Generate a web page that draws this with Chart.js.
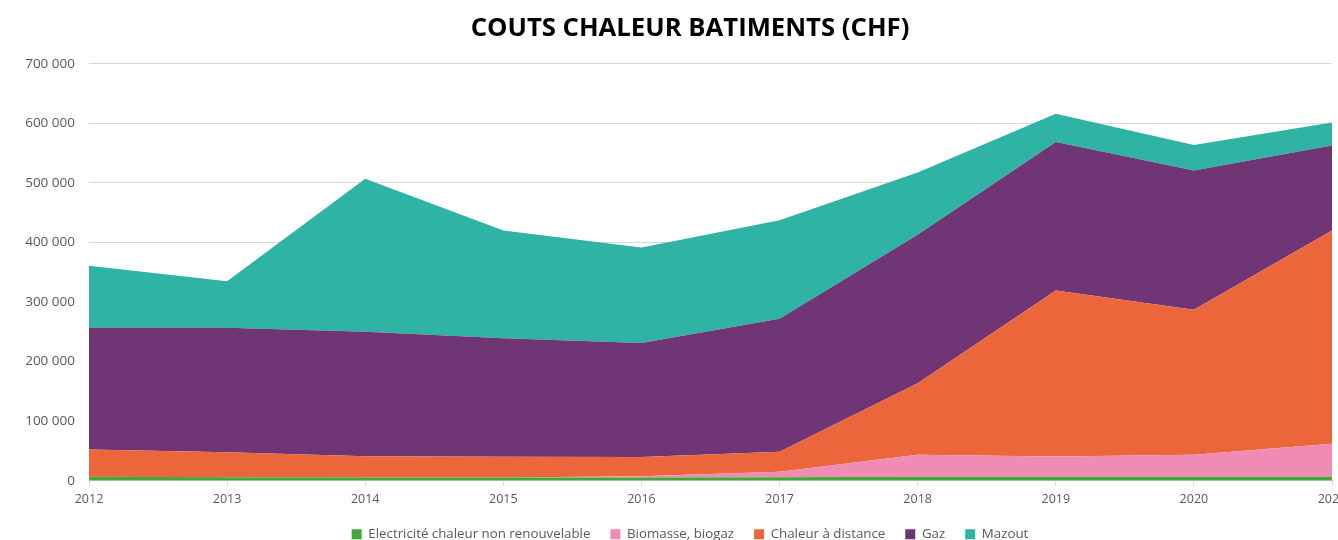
<!DOCTYPE html>
<html lang="fr">
<head>
    <meta charset="utf-8" />
    <title>Couts chaleur batiments</title>
    <script src="https://cdn.jsdelivr.net/npm/chart.js"></script>
    <style>
        html, body { margin: 0; padding: 0; overflow: hidden; background: #fff; }
        #wrap { width: 1380px; height: 540px; }
    </style>
</head>
<body>
    <div id="wrap"><canvas id="chart"></canvas></div>

    <script>
        // Années
        const annees = ['2012', '2013', '2014', '2015', '2016', '2017', '2018', '2019', '2020', '2021'];

        // Valeurs (CHF)
        const electricite = [6500, 6000, 5500, 5500, 5500, 6000, 6500, 6500, 6500, 6500];
        const biomasse    = [0, 0, 0, 0, 2000, 9000, 37200, 34000, 37200, 55500];
        const chaleurDist = [45700, 41600, 35400, 34900, 32400, 33800, 120000, 278900, 243300, 358000];
        const gaz         = [204800, 209400, 209100, 198600, 191200, 223200, 249300, 249300, 234000, 143000];
        const mazout      = [104000, 78000, 257000, 181000, 160400, 165500, 104600, 47400, 42600, 38700];

        const couleurs = ['#43A83A', '#F08BB4', '#EC663C', '#6F3575', '#2EB3A5'];

        const serie = (label, data, i) => ({
            label: label,
            data: data,
            backgroundColor: couleurs[i],
            borderColor: couleurs[i],
            borderWidth: 0,
            pointRadius: 0,
            fill: i === 0 ? 'origin' : '-1',
            tension: 0
        });

        // format "700 000"
        const fmt = v => v === 0 ? '0' : String(v).replace(/\B(?=(\d{3})+(?!\d))/g, ' ');

        const font = "'Open Sans', sans-serif";

        // recentre titre et légende (la marge droite coupe le dernier libellé comme l'original)
        const recentrer = {
            id: 'recentrer',
            afterLayout(chart) {
                const t = chart.titleBlock, l = chart.legend;
                t.left += 24; t.right += 24;
                l.left += 24; l.right += 24;
                l.top -= 5; l.bottom -= 5;
            }
        };

        new Chart(document.getElementById('chart'), {
            type: 'line',
            data: {
                labels: annees,
                datasets: [
                    serie('Electricité chaleur non renouvelable', electricite, 0),
                    serie('Biomasse, biogaz', biomasse, 1),
                    serie('Chaleur à distance', chaleurDist, 2),
                    serie('Gaz', gaz, 3),
                    serie('Mazout', mazout, 4)
                ]
            },
            plugins: [recentrer],
            options: {
                responsive: true,
                maintainAspectRatio: false,
                animation: false,
                layout: { padding: { left: 0, right: 48, top: 0, bottom: -16 } },
                plugins: {
                    title: {
                        display: true,
                        text: 'COUTS CHALEUR BATIMENTS (CHF)',
                        color: '#000',
                        font: { family: font, size: 25.7, weight: 'bold' },
                        padding: { top: 13, bottom: 20 }
                    },
                    legend: {
                        position: 'bottom',
                        labels: {
                            color: '#595959',
                            font: { family: font, size: 13.3 },
                            boxWidth: 10,
                            boxHeight: 10,
                            padding: 20
                        }
                    },
                    tooltip: { enabled: false }
                },
                scales: {
                    x: {
                        offset: false,
                        grid: { drawOnChartArea: false, color: '#d9d9d9', tickLength: 5 },
                        border: { color: '#d9d9d9' },
                        ticks: { color: '#595959', font: { family: font, size: 12.5 }, maxRotation: 0, padding: 6 }
                    },
                    y: {
                        stacked: true,
                        min: 0,
                        max: 700000,
                        grid: { color: '#d9d9d9', drawTicks: false },
                        border: { display: false },
                        ticks: {
                            stepSize: 100000,
                            color: '#595959',
                            font: { family: font, size: 13.5 },
                            padding: 14,
                            callback: v => fmt(v)
                        },
                        afterFit: s => { s.width = 89; }
                    }
                }
            }
        });
    </script>
</body>
</html>
